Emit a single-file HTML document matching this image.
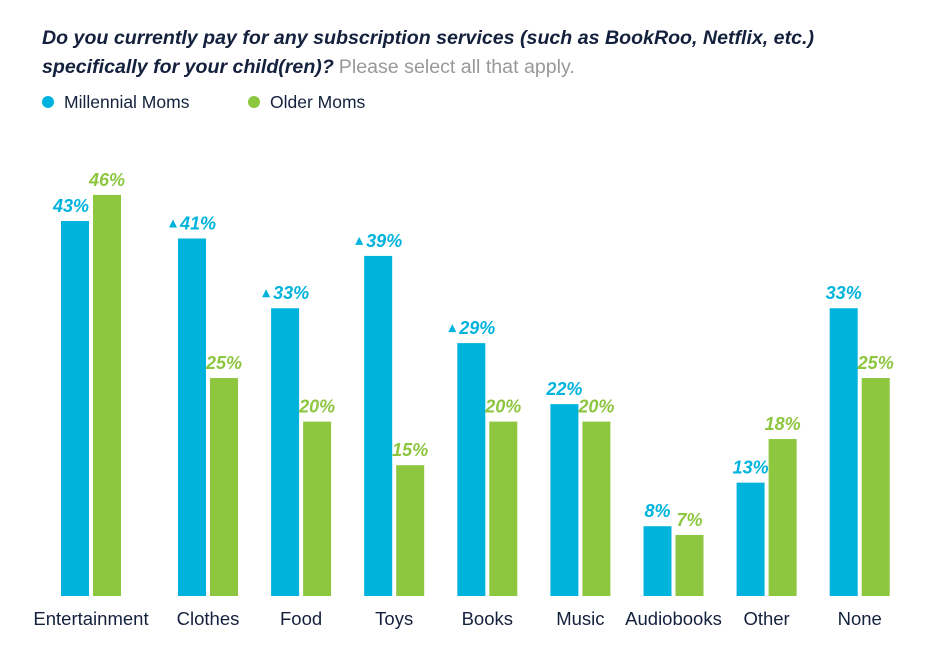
<!DOCTYPE html>
<html><head><meta charset="utf-8"><style>
body{margin:0;background:#fff;width:929px;height:660px;overflow:hidden;font-family:"Liberation Sans",sans-serif}
</style></head><body>
<svg width="929" height="660" xmlns="http://www.w3.org/2000/svg">
<text x="42" y="44" font-size="19.6" font-weight="bold" font-style="italic" fill="#14213d">Do you currently pay for any subscription services (such as BookRoo, Netflix, etc.)</text>
<text x="42" y="73" font-size="19.6" fill="#14213d"><tspan font-weight="bold" font-style="italic">specifically for your child(ren)?</tspan><tspan fill="#999" dx="5">Please select all that apply.</tspan></text>
<g>
<circle cx="48" cy="102" r="6" fill="#00b3dc"/>
<text x="64" y="108" font-size="17.5" fill="#14213d">Millennial Moms</text>
<circle cx="254" cy="102" r="6" fill="#8dc63f"/>
<text x="270" y="108" font-size="17.5" fill="#14213d">Older Moms</text>
</g>
<g id="plot"></g>
</svg>
<script>
const categories=["Entertainment","Clothes","Food","Toys","Books","Music","Audiobooks","Other","None"];
const millennial=[43,41,33,39,29,22,8,13,33];
const older=[46,25,20,15,20,20,7,18,25];
const significant=[false,true,true,true,true,false,false,false,false];
const NS="http://www.w3.org/2000/svg";
const base=596, pxPer=8.72, bw=28;
function y(v){return base-v*pxPer;}
function cx(i){return i===0?91:208+(i-1)*93.1;}
const g=document.getElementById('plot');
function mk(t,a){const e=document.createElementNS(NS,t);for(const k in a)e.setAttribute(k,a[k]);g.appendChild(e);return e;}
categories.forEach((c,i)=>{
 const c0=cx(i);
 const bx=c0-bw-2, gx=c0+2;
 const b=mk('rect',{x:bx,y:y(millennial[i]),width:bw,height:millennial[i]*pxPer,fill:'#00b3dc'});
 
 
 const o=mk('rect',{x:gx,y:y(older[i]),width:bw,height:older[i]*pxPer,fill:'#8dc63f'});
 
 
 const lb=mk('text',{x:i===0?bx+bw:bx+bw/2+(significant[i]?6:0),y:y(millennial[i])-9,'font-size':18,'font-weight':'bold','font-style':'italic',fill:'#00b3dc','text-anchor':i===0?'end':'middle'});
 lb.textContent=millennial[i]+'%';
 
 
 if(significant[i]){
  const tx=bx-5, ty=y(millennial[i])-15;
  const tr=mk('polygon',{points:`${tx-4},${ty+4} ${tx+4},${ty+4} ${tx},${ty-4}`,fill:'#00b3dc'});
  
  
 }
 const lo=mk('text',{x:gx+bw/2,y:y(older[i])-9,'font-size':18,'font-weight':'bold','font-style':'italic',fill:'#8dc63f','text-anchor':'middle'});
 lo.textContent=older[i]+'%';
 
 
 const ct=mk('text',{x:c0,y:625,'font-size':18.5,fill:'#14213d','text-anchor':'middle'});
 ct.textContent=c;
 
 
});
</script>
</body></html>
